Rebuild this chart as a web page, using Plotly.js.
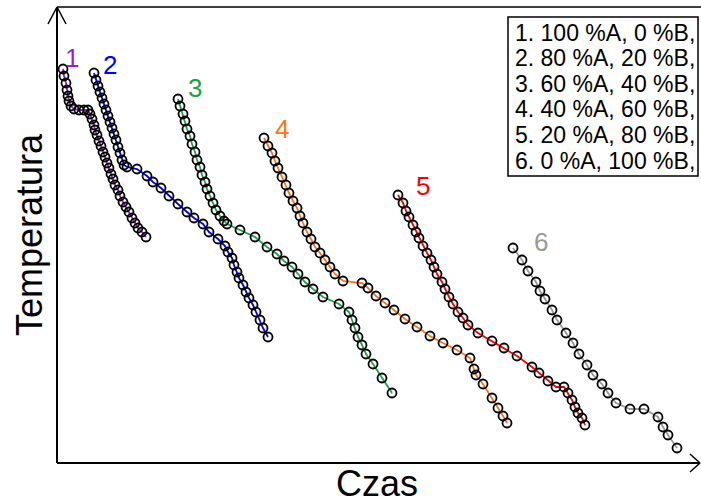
<!DOCTYPE html>
<html>
<head>
<meta charset="utf-8">
<script src="https://cdn.plot.ly/plotly-3.0.1.min.js"></script>
<style>html,body{margin:0;padding:0;background:#fff;}#chart{width:701px;height:504px;}</style>
</head>
<body>
<div id="chart"></div>
<script>
// Series names / compositions
var seriesNames = ["1", "2", "3", "4", "5", "6"];
var pctA = [100, 80, 60, 40, 20, 0];
var pctB = [0, 20, 40, 60, 80, 100];
var seriesColors = ["#9B1FCF", "#0000FF", "#1BA34A", "#FF7417", "#FF0000", "#999999"];

// Time (arbitrary units) and temperature (arbitrary units) for each cooling curve
var t1 = [63,64,66,67,68,69,71,74,79,84,88,90,92,94,95,97,99,101,103,105,107,109,111,113,115,118,120,123,126,129,132,135,138,142,146];
var T1 = [431,424,417,410,404,399,394,391,390,390,390,386,381,375,370,365,359,354,348,343,337,332,326,321,315,310,304,298,293,288,282,277,272,268,263];

var t2 = [94,96,98,100,102,104,106,108,110,112,114,116,118,120,122,124,127,137,147,153,161,169,178,187,194,203,209,218,225,228,232,234,237,239,243,246,249,253,256,260,263,268];
var T2 = [427,420,414,408,402,396,390,384,378,372,366,360,353,347,340,335,333,331,324,318,312,304,296,288,282,276,268,261,254,248,242,235,228,222,215,208,202,195,188,180,172,163];

var t3 = [178,180,183,185,187,190,192,195,197,200,202,205,207,210,213,216,220,224,227,240,255,267,277,284,292,298,305,313,323,339,349,352,355,358,362,366,373,382,392];
var T3 = [401,394,386,379,371,364,356,348,340,333,325,318,311,304,297,290,284,279,276,270,263,253,246,239,233,226,218,211,203,196,188,180,172,163,155,146,136,122,107];

var t4 = [264,268,272,275,278,282,286,289,293,297,300,303,307,311,315,320,325,330,335,343,362,368,376,385,394,405,417,430,443,457,470,474,476,483,492,498,503,507];
var T4 = [362,354,347,339,332,323,315,307,299,292,284,277,268,261,253,247,240,233,226,219,217,212,204,197,190,181,173,164,157,150,142,131,125,116,102,92,84,77];

var t5 = [398,403,406,409,413,416,419,423,427,431,434,437,442,445,449,453,458,463,468,478,492,504,517,532,539,548,556,564,568,572,575,578,582,585];
var T5 = [305,297,289,283,275,268,262,254,247,240,233,226,218,211,203,196,188,182,175,167,159,152,144,133,127,119,113,113,107,100,93,87,82,75];

var t6 = [513,522,528,536,540,545,552,557,566,573,579,587,593,602,608,616,630,644,658,663,668,677];
var T6 = [252,240,229,218,209,201,190,180,167,157,146,135,125,116,107,97,91,91,83,73,65,52];

// Curve number label positions
var labelT = [72, 110, 195, 282, 423, 541];
var labelTemp = [442, 435, 412, 371, 314, 258];

var xTitle = "Czas";
var yTitle = "Temperatura";

var xs = [t1, t2, t3, t4, t5, t6];
var ys = [T1, T2, T3, T4, T5, T6];

var FONT = "Liberation Sans, Arial, sans-serif";

var traces = [];
for (var i = 0; i < xs.length; i++) {
  traces.push({
    x: xs[i], y: ys[i], type: "scatter", mode: "lines+markers",
    line: {color: seriesColors[i], width: 1.8},
    marker: {symbol: "circle-open", size: 9, color: "#000", line: {width: 1.8, color: "#000"}},
    showlegend: false, hoverinfo: "skip"
  });
}

// plot area geometry in px for decorative shapes
var L = 57, T = 7, W = 640, H = 456;
function px(x) { return (x - L) / W; }
function py(y) { return (T + H - y) / H; }

var annotations = [];
for (var i = 0; i < seriesNames.length; i++) {
  annotations.push({
    x: labelT[i], y: labelTemp[i], xref: "x", yref: "y", text: seriesNames[i],
    showarrow: false, font: {family: FONT, size: 26, color: seriesColors[i]},
    xanchor: "center", yanchor: "middle"
  });
}
for (var i = 0; i < seriesNames.length; i++) {
  annotations.push({
    x: px(513), y: py(33 + 25.5 * i), xref: "paper", yref: "paper",
    text: seriesNames[i] + ". " + pctA[i] + " %A, " + pctB[i] + " %B,",
    showarrow: false, font: {family: FONT, size: 23, color: "#000"},
    xanchor: "left", yanchor: "middle"
  });
}

var shapes = [
  // legend box
  {type: "rect", xref: "paper", yref: "paper", x0: px(508), x1: px(698), y0: py(176), y1: py(17),
   line: {color: "#000", width: 1.5}, fillcolor: "rgba(0,0,0,0)"},
  // top frame line
  {type: "line", xref: "paper", yref: "paper", x0: px(57), y0: py(7), x1: px(701), y1: py(7), line: {color: "#000", width: 1.5}},
  // x axis arrow head
  {type: "line", xref: "paper", yref: "paper", x0: px(690), y0: py(454), x1: px(700), y1: py(463), line: {color: "#000", width: 1.5}},
  {type: "line", xref: "paper", yref: "paper", x0: px(690), y0: py(472), x1: px(700), y1: py(463), line: {color: "#000", width: 1.5}},
  {type: "line", xref: "paper", yref: "paper", x0: px(57), y0: py(463), x1: px(700), y1: py(463), line: {color: "#000", width: 2}},
  // y axis arrow head
  {type: "line", xref: "paper", yref: "paper", x0: px(48), y0: py(24), x1: px(57), y1: py(7), line: {color: "#000", width: 1.5}},
  {type: "line", xref: "paper", yref: "paper", x0: px(66), y0: py(24), x1: px(57), y1: py(7), line: {color: "#000", width: 1.5}},
  {type: "line", xref: "paper", yref: "paper", x0: px(57), y0: py(463), x1: px(57), y1: py(7), line: {color: "#000", width: 2}}
];

var layout = {
  width: 701, height: 504,
  margin: {l: L, r: 701 - L - W, t: T, b: 504 - T - H, pad: 0},
  paper_bgcolor: "#fff", plot_bgcolor: "#fff",
  xaxis: {range: [57, 697], showgrid: false, zeroline: false, showticklabels: false, ticks: "",
          showline: false, title: {text: xTitle, font: {family: FONT, size: 36, color: "#000"}, standoff: 9}},
  yaxis: {range: [37, 493], showgrid: false, zeroline: false, showticklabels: false, ticks: "",
          showline: false, title: {text: yTitle, font: {family: FONT, size: 36, color: "#000"}, standoff: 2}},
  shapes: shapes,
  annotations: annotations
};

Plotly.newPlot("chart", traces, layout, {staticPlot: true, displayModeBar: false});
</script>
</body>
</html>
